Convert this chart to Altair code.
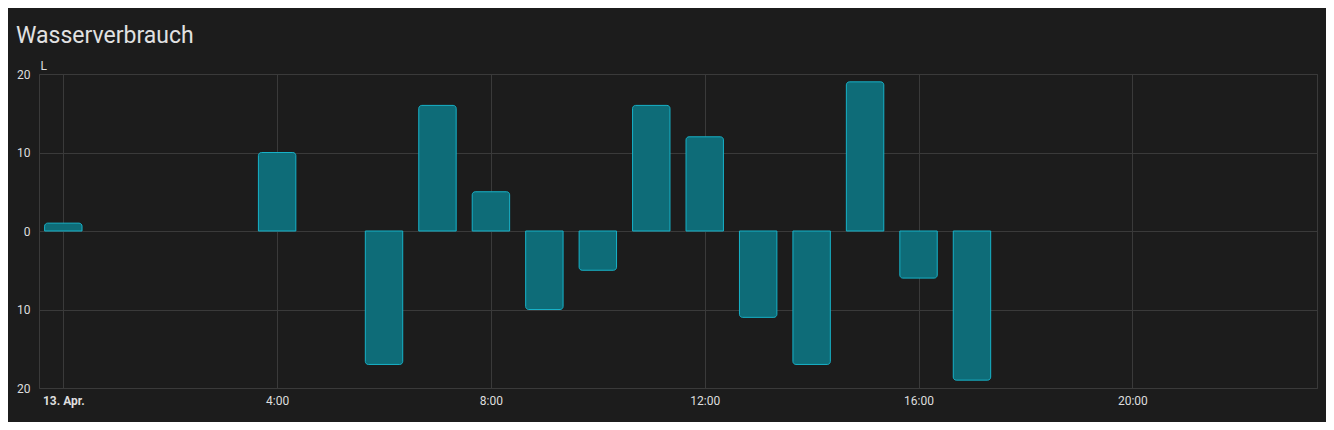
import altair as alt
import pandas as pd

# data
hours = [0, 4, 6, 7, 8, 9, 10, 11, 12, 13, 14, 15, 16, 17]
values = [1, 10, -17, 16, 5, -10, -5, 16, 12, -11, -17, 19, -6, -19]
x_tick_values = [0, 4, 8, 12, 16, 20]
x_tick_labels = ["13. Apr.", "4:00", "8:00", "12:00", "16:00", "20:00"]
y_tick_values = [-20, -10, 0, 10, 20]
y_tick_labels = ["20", "10", "0", "10", "20"]
title_text = "Wasserverbrauch"
unit_text = "L"

df = pd.DataFrame({"hour": hours, "value": values})


def ternary(vals, labels):
    expr = "''"
    for v, l in reversed(list(zip(vals, labels))):
        expr = f"datum.value == {v} ? '{l}' : ({expr})"
    return expr


x_label_expr = ternary(x_tick_values, x_tick_labels)
y_label_expr = ternary(y_tick_values, y_tick_labels)

FILL = "#0e6c78"
STROKE = "#17b2c8"
GRID = "#3a3a3a"
LABEL = "#dedede"
FONT = "Roboto"

base = alt.Chart(df).transform_calculate(
    start="datum.hour - 0.35", end="datum.hour + 0.35"
).encode(
    x=alt.X(
        "start:Q",
        scale=alt.Scale(domain=[-0.455, 23.455], nice=False, zero=False),
        axis=alt.Axis(
            values=x_tick_values,
            labelExpr=x_label_expr,
            grid=True,
            gridColor=GRID,
            domain=False,
            ticks=False,
            labelPadding=7,
            labelFontWeight={
                "condition": {"test": "datum.value == 0", "value": "bold"},
                "value": "normal",
            },
            labelFlush=False,
            labelOverlap=False,
            title=None,
        ),
    ),
    x2="end:Q",
    y=alt.Y(
        "value:Q",
        scale=alt.Scale(domain=[-20, 20], nice=False),
        axis=alt.Axis(
            values=y_tick_values,
            labelExpr=y_label_expr,
            grid=True,
            gridColor=GRID,
            domain=False,
            ticks=False,
            labelPadding=9,
            title=unit_text,
            titleAngle=0,
            titleX=1,
            titleY=-5,
            titleAlign="left",
            titleBaseline="alphabetic",
            titleFont=FONT,
            titleFontSize=12,
            titleFontWeight="normal",
            titleColor=LABEL,
        ),
    ),
    y2=alt.datum(0),
)

pos = base.transform_filter("datum.value > 0").mark_bar(
    fill=FILL, stroke=STROKE, strokeWidth=1,
    cornerRadiusTopLeft=3, cornerRadiusTopRight=3,
)
neg = base.transform_filter("datum.value < 0").mark_bar(
    fill=FILL, stroke=STROKE, strokeWidth=1,
    cornerRadiusBottomLeft=3, cornerRadiusBottomRight=3,
)

chart = alt.layer(pos, neg).properties(
    width=1278,
    height=314,
    padding={"left": 31, "top": 66, "right": 9, "bottom": 34},
    autosize=alt.AutoSizeParams(type="none"),
    background="#1c1c1c",
    title=alt.Title(
        title_text,
        anchor="start",
        frame="group",
        font=FONT,
        fontSize=23,
        fontWeight="normal",
        color="#e1e1e1",
        dx=-23,
        offset=11,
    ),
).configure_view(
    stroke=GRID, strokeWidth=1
).configure_axis(
    labelFont=FONT, labelFontSize=12, labelColor=LABEL,
)

chart.save("out.html", embed_options={"renderer": "svg", "actions": False})
